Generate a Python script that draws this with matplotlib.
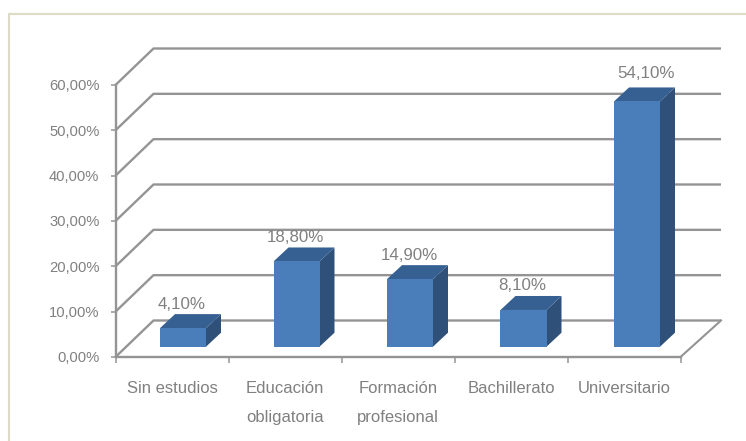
import matplotlib
matplotlib.use("Agg")
import matplotlib.pyplot as plt
from matplotlib.lines import Line2D
from matplotlib.patches import Polygon

plt.rcParams['font.family'] = ['Liberation Sans', 'DejaVu Sans']

categories = ["Sin estudios", "Educación\nobligatoria", "Formación\nprofesional",
              "Bachillerato", "Universitario"]
values = [4.1, 18.8, 14.9, 8.1, 54.1]
value_labels = ["4,10%", "18,80%", "14,90%", "8,10%", "54,10%"]
y_ticks = [0, 10, 20, 30, 40, 50, 60]
y_tick_labels = ["0,00%", "10,00%", "20,00%", "30,00%", "40,00%", "50,00%", "60,00%"]

W, H = 746, 441
L, R, B, T = 115.5, 680.5, 357.0, 85.0   # plot front rectangle, pixels from top-left
GRID = "#949494"
TEXT = "#808080"
FRONT, TOP, SIDE = "#4a7ebb", "#376092", "#2f5179"

fig = plt.figure(figsize=(W / 100, H / 100), dpi=100, facecolor="white")
ax = fig.add_axes([L / W, 1 - B / H, (R - L) / W, (B - T) / H])
ax.set_xlim(0, len(categories))
ax.set_ylim(0, 60)
ax.patch.set_visible(False)

ux = (R - L) / len(categories)   # pixels per category
uy = (B - T) / 60                # pixels per percentage point
wall_dx, wall_dy = 38 / ux, 36.5 / uy
right_dx = 40.5 / ux
bar_dx, bar_dy = 15 / ux, 14 / uy
off_dx, off_dy = 11 / ux, 10.3 / uy
bar_w = 46 / ux
bar_step = 113.5 / ux

# gridlines: side wall + back wall
xmax = len(categories)
for v in y_ticks:
    ax.plot([0, wall_dx, xmax + right_dx], [v, v + wall_dy, v + wall_dy],
            color=GRID, lw=1.7, clip_on=False, zorder=1, solid_capstyle="butt")
ax.plot([xmax, xmax + right_dx], [0, wall_dy], color=GRID, lw=1.5, clip_on=False, zorder=1)

# bars
for i, (v, lab) in enumerate(zip(values, value_labels)):
    cx = 0.5 + off_dx + i * bar_step
    x0, x1 = cx - bar_w / 2, cx + bar_w / 2
    y0, y1 = off_dy, off_dy + v
    ax.add_patch(Polygon([(x1, y0), (x1 + bar_dx, y0 + bar_dy), (x1 + bar_dx, y1 + bar_dy), (x1, y1)],
                         closed=True, fc=SIDE, ec="none", clip_on=False, zorder=3))
    ax.add_patch(Polygon([(x0, y1), (x1, y1), (x1 + bar_dx, y1 + bar_dy), (x0 + bar_dx, y1 + bar_dy)],
                         closed=True, fc=TOP, ec="none", clip_on=False, zorder=3))
    ax.bar(cx, v, width=bar_w, bottom=y0, color=FRONT, zorder=4, clip_on=False)
    gap = 28 if v > 50 else 24
    shift = 9 if v > 50 else -1
    ax.text(cx + shift / ux, y1 + gap / uy, lab, ha="center", va="center", color=TEXT,
            fontsize=12.2, zorder=5, clip_on=False)

# axes, ticks, labels
for s in ("top", "right"):
    ax.spines[s].set_visible(False)
for s in ("left", "bottom"):
    ax.spines[s].set_color(GRID)
    ax.spines[s].set_linewidth(1.7)
    ax.spines[s].set_zorder(2)

ax.set_yticks(y_ticks)
ax.set_yticklabels(y_tick_labels)
ax.tick_params(axis="y", length=3.6, width=1.1, color=GRID, labelcolor=TEXT, labelsize=10.6, pad=8)
ax.set_xticks(range(len(categories) + 1))
ax.set_xticklabels([])
ax.tick_params(axis="x", which="major", length=4.3, width=1.1, color=GRID)
ax.set_xticks([i + 0.5 for i in range(len(categories))], minor=True)
ax.set_xticklabels(categories, minor=True, linespacing=2.1)
ax.tick_params(axis="x", which="minor", length=0, labelcolor=TEXT, labelsize=12, pad=17.5)

# outer frame of the picture
frame = "#dedbc6"
fig.add_artist(Line2D([9 / W, 9 / W, 1], [0, 1 - 14 / H, 1 - 14 / H], color=frame, lw=1.6,
                      transform=fig.transFigure))

fig.savefig("out.png", dpi=100, facecolor="white")
